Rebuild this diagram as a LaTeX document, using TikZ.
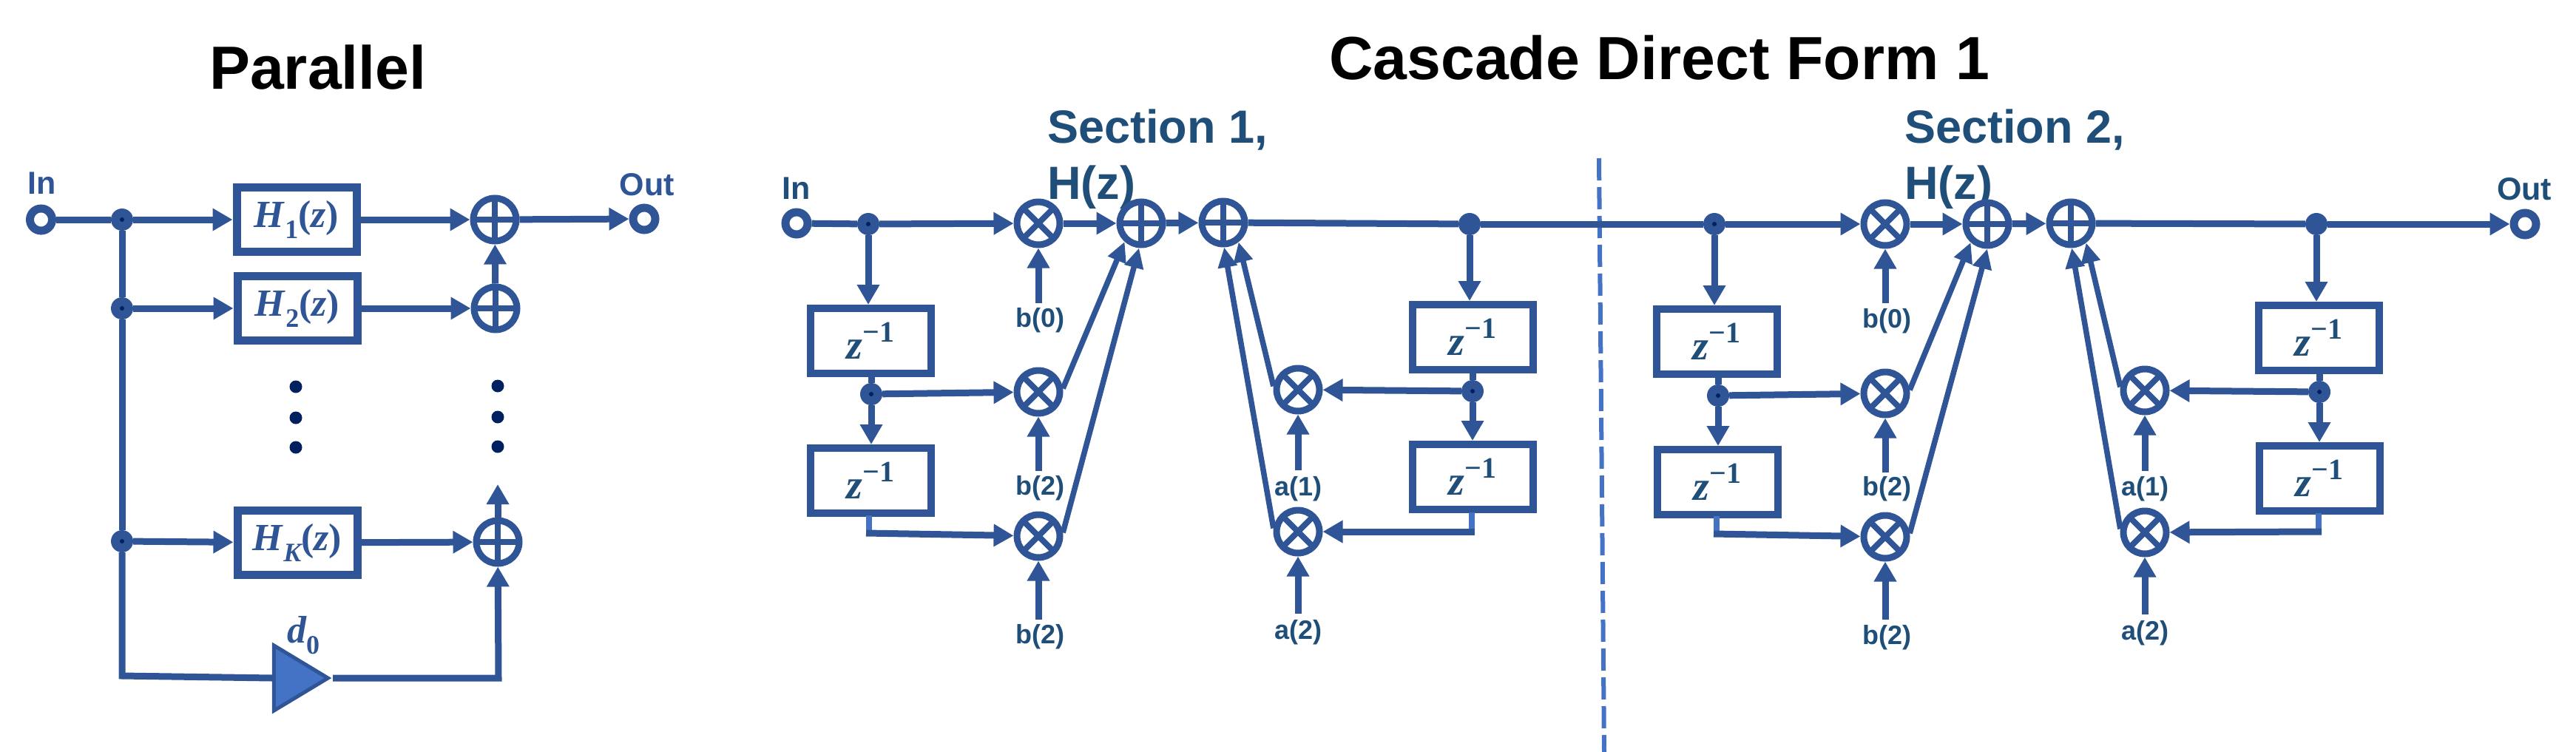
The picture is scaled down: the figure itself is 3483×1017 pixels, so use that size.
\documentclass[tikz,border=0pt]{standalone}
\usepackage{fontspec}
\setmainfont{Liberation Sans}
\newfontfamily\mathserif{Liberation Serif}
\usetikzlibrary{arrows.meta,shapes.geometric}
\definecolor{wire}{HTML}{2F5597}
\definecolor{ink}{HTML}{1F4E79}
\definecolor{lite}{HTML}{4472C4}
\definecolor{navy}{HTML}{002060}
\newcommand{\mv}[1]{{\mathserif\bfseries\itshape #1}}
\newcommand{\mr}[1]{{\mathserif\bfseries #1}}
\newcommand{\fsub}[1]{\raisebox{-0.28em}{\fontsize{36}{36}\selectfont\mr{#1}}}
\newcommand{\Hz}[1]{\mv{H}\kern1pt\fsub{#1}\mr{(}\mv{z}\mr{)}}
\newcommand{\zinv}{\mv{z}\raisebox{0.42em}{\fontsize{40}{40}\selectfont\mr{−1}}}
\tikzset{
  x=1pt,y=-1pt,
  wireline/.style={line width=9pt,draw=wire},
  arr/.style={wireline,-{Triangle[length=27pt,width=29pt]}},
  diag/.style={line width=7.5pt,draw=wire,-{Triangle[length=27pt,width=25pt]}},
  stub/.style={line width=8pt,draw=lite},
  port/.style={circle,draw=wire,line width=11pt,fill=white,minimum size=30pt,inner sep=0pt},
  junc/.style={circle,fill=wire,minimum size=30pt,inner sep=0pt},
  juncdot/.style={junc,path picture={\fill[navy] (path picture bounding box.center) circle (3pt);}},
  ellip/.style={circle,fill=navy,minimum size=17pt,inner sep=0pt},
  summ/.style={circle,draw=wire,line width=9pt,fill=white,minimum size=58pt,inner sep=0pt,
    path picture={\draw[wire,line width=8pt] (path picture bounding box.north)--(path picture bounding box.south)
      (path picture bounding box.west)--(path picture bounding box.east);}},
  mult/.style={circle,draw=wire,line width=9pt,fill=white,minimum size=58pt,inner sep=0pt,
    path picture={\draw[wire,line width=8pt] (path picture bounding box.north west)--(path picture bounding box.south east)
      (path picture bounding box.south west)--(path picture bounding box.north east);}},
  hbox/.style={rectangle,draw=wire,line width=11pt,fill=white,minimum width=162pt,minimum height=87pt,inner sep=0pt,
    text=wire,font=\fontsize{52}{56}\selectfont},
  zbox/.style={rectangle,draw=wire,line width=10pt,fill=white,minimum width=163pt,minimum height=88pt,inner sep=0pt,
    text=ink,font=\fontsize{56}{60}\selectfont},
  gain/.style={isosceles triangle,isosceles triangle stretches,shape border rotate=0,draw=wire,line width=5pt,fill=lite,
    minimum width=88pt,minimum height=73pt,inner sep=0pt,anchor=apex},
  title/.style={anchor=base west,inner sep=0pt,text=black,font=\bfseries\fontsize{82.4}{90}\selectfont},
  seclabel/.style={anchor=base west,inner sep=0pt,text=ink,align=left,font=\bfseries\fontsize{63}{76}\selectfont},
  portlabel/.style={inner sep=0pt,text=wire,font=\bfseries\fontsize{43}{48}\selectfont},
  portink/.style={inner sep=0pt,text=ink,font=\bfseries\fontsize{43}{48}\selectfont},
  coef/.style={inner sep=0pt,text=ink,font=\bfseries\fontsize{36}{40}\selectfont},
}
\begin{document}
\begin{tikzpicture}
\useasboundingbox (0,0) rectangle (3483,1017);
% Titles
\node[title] (tpar) at (283,120) {Parallel};
\node[title] (tcas) at (1797,107) {Cascade Direct Form 1};
\node[seclabel] (s1) at (1416,269) {Section 1,\\H(z)};
\node[seclabel] (s2) at (2575,269) {Section 2,\\H(z)};
% divider
\coordinate (dt) at (2162,214);
\coordinate (db) at (2169,1017);
\draw[lite,line width=6pt,dash pattern=on 30pt off 9pt] (dt) -- (db);

% ---------- Parallel ----------
\node[port] (pin) at (55.5,297) {};
\node[port] (pout) at (871,296) {};
\node[portlabel] (pinl) at (57,248) {In};
\node[portlabel] (poutl) at (875,250) {Out};
\node[juncdot] (pj1) at (165,297) {};
\node[juncdot] (pj2) at (165,417) {};
\node[juncdot] (pj3) at (165,732) {};
\node[hbox] (h1) at (401,297) {\Hz{1}};
\node[hbox] (h2) at (402,417) {\Hz{2}};
\node[hbox] (hk) at (402,734) {\Hz{\itshape K}};
\node[summ] (ps1) at (669,297) {};
\node[summ] (ps2) at (670,417) {};
\node[summ] (psk) at (673,733) {};
\node[ellip] (pd1) at (400,523) {};
\node[ellip] (pd2) at (400,565) {};
\node[ellip] (pd3) at (400,605) {};
\node[ellip] (pd4) at (673,522) {};
\node[ellip] (pd5) at (673,564) {};
\node[ellip] (pd6) at (673,604) {};
\node[gain] (tri) at (450,917) {};
\node[inner sep=0pt,text=wire,font=\fontsize{52}{56}\selectfont] (dzero) at (410,859) {\mv{d}\fsub{0}};
\coordinate (pb) at (165,914);
\coordinate (pc) at (674,917);
\coordinate (ptop) at (673,655);
\draw[wireline] (pin) -- (pj1);
\draw[wireline] (pj1) -- (pj2);
\draw[wireline] (pj2) -- (pj3);
\draw[wireline] (pj3) -- (pb) -- (tri.lower side);
\draw[arr] (pj1) -- (h1);
\draw[arr] (pj2) -- (h2);
\draw[arr] (pj3) -- (hk);
\draw[arr] (h1) -- (ps1);
\draw[arr] (h2) -- (ps2);
\draw[arr] (hk) -- (psk);
\draw[arr] (ps1) -- (pout);
\draw[arr] (ps2) -- (ps1);
\draw[arr] (psk) -- (ptop);
\draw[arr] (tri.apex) -- (pc) -- (psk);

% ---------- Section 1 ----------
\node[port] (ain) at (1077,302) {};
\node[portink] (ainl) at (1077,255) {In};
\node[juncdot] (aj1) at (1174,303) {};
\node[zbox] (az1) at (1177,461) {\zinv};
\node[juncdot] (aj2) at (1178,533) {};
\node[zbox] (az2) at (1177,650) {\zinv};
\node[mult] (am1) at (1404,302) {};
\node[mult] (am2) at (1404,530) {};
\node[mult] (am3) at (1404,725) {};
\node[summ] (asa) at (1543,302) {};
\node[summ] (asb) at (1654,301) {};
\node[coef] (ab0) at (1406,433) {b(0)};
\node[coef] (ab1) at (1406,660) {b(2)};
\node[coef] (ab2) at (1406,861) {b(2)};
\coordinate (ab0t) at (1404,410);
\coordinate (ab1t) at (1404,637);
\coordinate (ab2t) at (1404,838);
\coordinate (aexit) at (1175,697);
\coordinate (acorn) at (1175,721);
\draw[wireline] (ain) -- (aj1);
\draw[arr] (aj1) -- (am1);
\draw[arr] (aj1) -- (az1.north -| aj1);
\draw[wireline] (az1.south -| aj2) -- (aj2);
\draw[arr] (aj2) -- (az2.north -| aj2);
\draw[arr] (aj2) -- (am2);
\draw[stub] (aexit) -- ([yshift=-4pt]acorn);
\draw[arr] ([xshift=-4pt]acorn) -- (am3);
\draw[arr] (ab0t) -- (am1);
\draw[arr] (ab1t) -- (am2);
\draw[arr] (ab2t) -- (am3);
\draw[arr] (am1) -- (asa);
\draw[arr] (asa) -- (asb);
\draw[diag] (am2.8) -- (asa.228);
\draw[diag] (am3.8) -- (asa.265);
% feedback part
\node[juncdot,path picture={}] (aj3) at (1987,303) {};
\node[zbox] (az3) at (1991,456) {\zinv};
\node[juncdot] (aj4) at (1991,529) {};
\node[zbox] (az4) at (1991,645) {\zinv};
\node[mult] (aa1) at (1755,527) {};
\node[mult] (aa2) at (1755,719) {};
\node[coef] (aal1) at (1755,661) {a(1)};
\node[coef] (aal2) at (1755,855) {a(2)};
\coordinate (aa1t) at (1755,636);
\coordinate (aa2t) at (1755,830);
\coordinate (aexit2) at (1990,693);
\coordinate (acorn2) at (1990,719);
\draw[arr] (aj3) -- (az3.north -| aj3);
\draw[wireline] (az3.south -| aj4) -- (aj4);
\draw[arr] (aj4) -- (az4.north -| aj4);
\draw[arr] (aj4) -- (aa1);
\draw[stub] (aexit2) -- ([yshift=-4pt]acorn2);
\draw[arr] ([xshift=4pt]acorn2) -- (aa2);
\draw[arr] (aa1t) -- (aa1);
\draw[arr] (aa2t) -- (aa2);
\draw[diag] (aa1.172) -- (asb.308);
\draw[diag] (aa2.172) -- (asb.272);

% ---------- Section 2 ----------
\node[juncdot] (bj1) at (2318,303) {};
\node[zbox] (bz1) at (2321,462) {\zinv};
\node[juncdot] (bj2) at (2323,535) {};
\node[zbox] (bz2) at (2322,652) {\zinv};
\node[mult] (bm1) at (2549,303) {};
\node[mult] (bm2) at (2549,532) {};
\node[mult] (bm3) at (2549,726) {};
\node[summ] (bsa) at (2687,303) {};
\node[summ] (bsb) at (2800,302) {};
\node[coef] (bb0) at (2551,434) {b(0)};
\node[coef] (bb1) at (2551,661) {b(2)};
\node[coef] (bb2) at (2551,862) {b(2)};
\coordinate (bb0t) at (2549,410);
\coordinate (bb1t) at (2549,639);
\coordinate (bb2t) at (2549,838);
\coordinate (bexit) at (2321,698);
\coordinate (bcorn) at (2321,722);
\draw[wireline] (asb) -- (aj3);
\draw[wireline] (aj3) -- (bj1);
\draw[arr] (bj1) -- (bm1);
\draw[arr] (bj1) -- (bz1.north -| bj1);
\draw[wireline] (bz1.south -| bj2) -- (bj2);
\draw[arr] (bj2) -- (bz2.north -| bj2);
\draw[arr] (bj2) -- (bm2);
\draw[stub] (bexit) -- ([yshift=-4pt]bcorn);
\draw[arr] ([xshift=-4pt]bcorn) -- (bm3);
\draw[arr] (bb0t) -- (bm1);
\draw[arr] (bb1t) -- (bm2);
\draw[arr] (bb2t) -- (bm3);
\draw[arr] (bm1) -- (bsa);
\draw[arr] (bsa) -- (bsb);
\draw[diag] (bm2.8) -- (bsa.228);
\draw[diag] (bm3.8) -- (bsa.270);
% feedback part
\node[juncdot,path picture={}] (bj3) at (3132,303) {};
\node[zbox] (bz3) at (3135,457) {\zinv};
\node[juncdot] (bj4) at (3136,530) {};
\node[zbox] (bz4) at (3136,647) {\zinv};
\node[mult] (ba1) at (2900,528) {};
\node[mult] (ba2) at (2900,720) {};
\node[coef] (bal1) at (2900,661) {a(1)};
\node[coef] (bal2) at (2900,856) {a(2)};
\coordinate (ba1t) at (2900,637);
\coordinate (ba2t) at (2900,831);
\coordinate (bexit2) at (3135,694);
\coordinate (bcorn2) at (3135,719);
\node[port] (bout) at (3414,303) {};
\node[portink] (boutl) at (3413,256) {Out};
\draw[wireline] (bsb) -- (bj3);
\draw[arr] (bj3) -- (bout);
\draw[arr] (bj3) -- (bz3.north -| bj3);
\draw[wireline] (bz3.south -| bj4) -- (bj4);
\draw[arr] (bj4) -- (bz4.north -| bj4);
\draw[arr] (bj4) -- (ba1);
\draw[stub] (bexit2) -- ([yshift=-4pt]bcorn2);
\draw[arr] ([xshift=4pt]bcorn2) -- (ba2);
\draw[arr] (ba1t) -- (ba1);
\draw[arr] (ba2t) -- (ba2);
\draw[diag] (ba1.172) -- (bsb.308);
\draw[diag] (ba2.172) -- (bsb.272);
\end{tikzpicture}
\end{document}
